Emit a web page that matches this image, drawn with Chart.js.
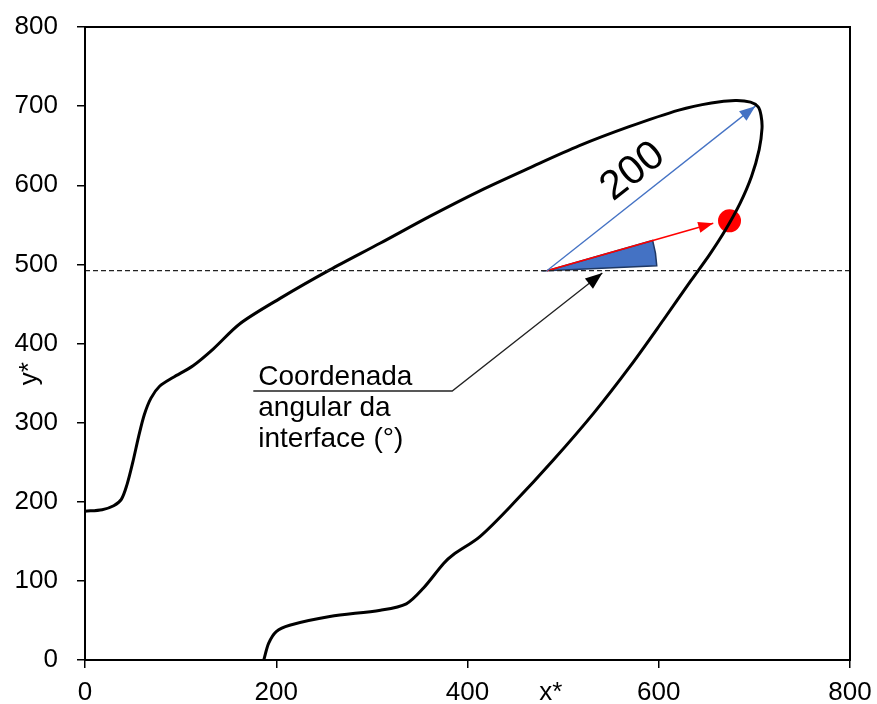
<!DOCTYPE html>
<html>
<head>
<meta charset="utf-8">
<script src="https://cdn.jsdelivr.net/npm/chart.js@4"></script>
<style>
  html, body { margin: 0; padding: 0; background: #fff; }
</style>
</head>
<body>
<canvas id="graficoInterface" width="877" height="704"></canvas>
<script>
    // Curva da interface (x*, y*)
    var curvaX = [0, 18, 30, 38, 44, 50, 56, 62, 69, 78, 92, 113, 134, 162, 204, 256, 309, 361, 413, 465, 517, 569, 621, 655, 680, 696, 704, 707,
                  708, 705, 697, 685, 670, 653, 634, 605, 570, 532, 490, 448, 413, 385, 375, 354, 336, 309, 256, 214, 200, 192, 187];
    var curvaY = [188, 190, 195, 203, 222, 250, 282, 310, 331, 346, 357, 372, 393, 425, 457, 493, 527, 561, 593, 622, 650, 674, 695, 704, 707, 705, 699, 688,
                  672, 645, 611, 577, 544, 512, 480, 430, 371, 312, 253, 198, 156, 133, 122, 91, 71, 63, 55, 44, 36, 21, 0];

    // Linha de referência horizontal e vetores
    var linhaRefX = [0, 800];
    var linhaRefY = [492, 492];
    var vetorRaioX = [483, 701];
    var vetorRaioY = [492, 700];
    var vetorPontoX = [483, 657];
    var vetorPontoY = [492, 552];
    var pontoX = [674];
    var pontoY = [555];

    // Chamada (texto + seta)
    var chamadaX = [176, 384, 541];
    var chamadaY = [340, 340, 489];
    var textoChamada = ['Coordenada', 'angular da', 'interface (°)'];
    var textoRaio = '200';
    var posTextoRaio = [573, 617];

    // Eixos
    var ticksX = [0, 200, 400, 600, 800];
    var ticksY = [0, 100, 200, 300, 400, 500, 600, 700, 800];

    var FONTE = "'Liberation Sans', Arial, sans-serif";

    function pares(xs, ys) {
        return xs.map(function (x, i) { return { x: x, y: ys[i] }; });
    }

    // Ponta de seta no fim de um dataset
    function ponta(ctx, x0, y0, x1, y1, comp, larg, cor) {
        var a = Math.atan2(y1 - y0, x1 - x0);
        ctx.save();
        ctx.translate(x1, y1);
        ctx.rotate(a);
        ctx.beginPath();
        ctx.moveTo(0, 0);
        ctx.lineTo(-comp, larg / 2);
        ctx.lineTo(-comp, -larg / 2);
        ctx.closePath();
        ctx.fillStyle = cor;
        ctx.fill();
        ctx.restore();
    }

    var desenhos = {
        id: 'desenhos',
        beforeDatasetsDraw: function (chart) {
            // setor azul (ângulo)
            var ctx = chart.ctx, sx = chart.scales.x, sy = chart.scales.y;
            var ox = sx.getPixelForValue(vetorPontoX[0]), oy = sy.getPixelForValue(vetorPontoY[0]);
            var px = sx.getPixelForValue(vetorPontoX[1]), py = sy.getPixelForValue(vetorPontoY[1]);
            var ang = Math.atan2(py - oy, px - ox);
            ctx.save();
            ctx.beginPath();
            ctx.moveTo(ox, oy);
            ctx.arc(ox, oy, 110, ang, -0.045);
            ctx.closePath();
            ctx.fillStyle = '#4472C4';
            ctx.fill();
            ctx.lineWidth = 1.5;
            ctx.strokeStyle = '#1F3864';
            ctx.stroke();
            ctx.restore();
        },
        afterDatasetsDraw: function (chart) {
            var ctx = chart.ctx, sx = chart.scales.x, sy = chart.scales.y, a = chart.chartArea;

            // pontas das setas
            ponta(ctx, sx.getPixelForValue(vetorRaioX[0]), sy.getPixelForValue(vetorRaioY[0]),
                  sx.getPixelForValue(vetorRaioX[1]), sy.getPixelForValue(vetorRaioY[1]), 16, 12, '#4472C4');
            ponta(ctx, sx.getPixelForValue(vetorPontoX[0]), sy.getPixelForValue(vetorPontoY[0]),
                  sx.getPixelForValue(vetorPontoX[1]), sy.getPixelForValue(vetorPontoY[1]), 15, 11, '#FF0000');
            ponta(ctx, sx.getPixelForValue(chamadaX[1]), sy.getPixelForValue(chamadaY[1]),
                  sx.getPixelForValue(chamadaX[2]), sy.getPixelForValue(chamadaY[2]), 17, 13, '#000');

            ctx.save();
            ctx.fillStyle = '#000';

            // "200" ao longo do vetor azul
            var ang = Math.atan2(sy.getPixelForValue(vetorRaioY[1]) - sy.getPixelForValue(vetorRaioY[0]),
                                 sx.getPixelForValue(vetorRaioX[1]) - sx.getPixelForValue(vetorRaioX[0]));
            ctx.save();
            ctx.translate(sx.getPixelForValue(posTextoRaio[0]), sy.getPixelForValue(posTextoRaio[1]));
            ctx.rotate(ang);
            ctx.font = '41px ' + FONTE;
            ctx.textAlign = 'center';
            ctx.textBaseline = 'middle';
            ctx.fillText(textoRaio, 0, 0);
            ctx.restore();

            // texto da chamada
            ctx.font = '28px ' + FONTE;
            ctx.textAlign = 'left';
            ctx.textBaseline = 'alphabetic';
            var tx = sx.getPixelForValue(chamadaX[0]) + 5;
            var ty = sy.getPixelForValue(chamadaY[0]) - 6;
            textoChamada.forEach(function (t, i) { ctx.fillText(t, tx, ty + i * 31); });

            // títulos dos eixos
            ctx.font = '26px ' + FONTE;
            ctx.textAlign = 'center';
            ctx.textBaseline = 'middle';
            ctx.fillText('x*', sx.getPixelForValue(487), a.bottom + 33);
            ctx.save();
            ctx.translate(30, sy.getPixelForValue(362));
            ctx.rotate(-Math.PI / 2);
            ctx.fillText('y*', 0, 0);
            ctx.restore();

            // moldura
            ctx.lineWidth = 2;
            ctx.strokeStyle = '#000';
            ctx.strokeRect(a.left, a.top, a.right - a.left, a.bottom - a.top);
            ctx.restore();
        }
    };

    var ctx = document.getElementById('graficoInterface').getContext('2d');

    var grafico = new Chart(ctx, {
        type: 'scatter',
        data: {
            datasets: [
                { data: pares(linhaRefX, linhaRefY), showLine: true, borderColor: '#222', borderWidth: 1.3, borderDash: [5, 3], pointRadius: 0 },
                { data: pares(curvaX, curvaY), showLine: true, borderColor: '#000', borderWidth: 3, pointRadius: 0, tension: 0.3 },
                { data: pares(vetorRaioX, vetorRaioY), showLine: true, borderColor: '#4472C4', borderWidth: 1.3, pointRadius: 0 },
                { data: pares(vetorPontoX, vetorPontoY), showLine: true, borderColor: '#FF0000', borderWidth: 1.5, pointRadius: 0 },
                { data: pares(pontoX, pontoY), pointRadius: 11.5, pointBackgroundColor: '#FF0000', pointBorderColor: '#FF0000', borderWidth: 0 },
                { data: pares(chamadaX, chamadaY), showLine: true, borderColor: '#222', borderWidth: 1.3, pointRadius: 0 }
            ]
        },
        options: {
            responsive: false,
            animation: false,
            devicePixelRatio: 1,
            layout: { padding: { top: 27, right: 27, left: 0, bottom: 0 } },
            plugins: { legend: { display: false }, tooltip: { enabled: false } },
            scales: {
                x: {
                    type: 'linear', min: 0, max: 800,
                    afterBuildTicks: function (s) { s.ticks = ticksX.map(function (v) { return { value: v }; }); },
                    afterFit: function (s) { s.height = 44; s.paddingLeft = 0; s.paddingRight = 0; },
                    grid: { drawOnChartArea: false, drawTicks: true, tickLength: 8, color: '#000', lineWidth: 1.5 },
                    border: { display: false },
                    ticks: { color: '#000', font: { family: FONTE, size: 26 }, padding: 9, maxRotation: 0, autoSkip: false }
                },
                y: {
                    type: 'linear', min: 0, max: 800,
                    afterBuildTicks: function (s) { s.ticks = ticksY.map(function (v) { return { value: v }; }); },
                    afterFit: function (s) { s.width = 85; s.paddingTop = 0; s.paddingBottom = 0; },
                    grid: { drawOnChartArea: false, drawTicks: true, tickLength: 8, color: '#000', lineWidth: 1.5 },
                    border: { display: false },
                    ticks: { color: '#000', font: { family: FONTE, size: 26 }, padding: 19, autoSkip: false }
                }
            }
        },
        plugins: [desenhos]
    });
</script>
</body>
</html>
